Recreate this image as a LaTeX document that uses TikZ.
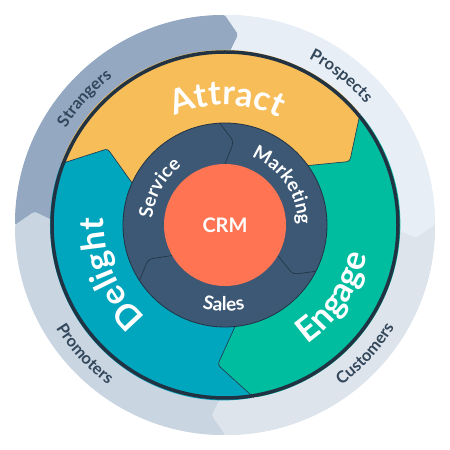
\documentclass[tikz,border=0pt]{standalone}
\usepackage{fontspec}
\setmainfont{Lato}
\usetikzlibrary{decorations.text}
\definecolor{strangers}{HTML}{94A9C1}
\definecolor{prospects}{HTML}{E8EEF5}
\definecolor{customers}{HTML}{DEE4EC}
\definecolor{promoters}{HTML}{CAD5E2}
\definecolor{attract}{HTML}{F7BD59}
\definecolor{engage}{HTML}{00BDA0}
\definecolor{delight}{HTML}{00A5BE}
\definecolor{hub}{HTML}{3D5874}
\definecolor{crmcol}{HTML}{FF7452}
\definecolor{rim}{HTML}{213343}
\definecolor{labelcol}{HTML}{33475B}
\newcommand{\segpath}[7]{(#1:#3) arc[start angle=#1, end angle=#2, radius=#3] -- ({#2-#6}:#5) -- ({#2-#7}:#4) arc[start angle={#2-#7}, end angle={#1-#7}, radius=#4] -- ({#1-#6}:#5) -- cycle}
\newcommand{\fbig}{\fontsize{34}{34}\selectfont\bfseries}
\newcommand{\fmid}{\fontsize{19}{19}\selectfont\bfseries}
\newcommand{\fout}{\fontsize{16.5}{16.5}\selectfont\bfseries}
\tikzset{
  curvetext/.style 2 args={decorate, decoration={text along path, text={#1}, text align=center, text color=#2}},
  segline/.style={draw=rim, line width=0.6, rounded corners=3},
}
\begin{document}
\begin{tikzpicture}[x=1pt,y=1pt]
\useasboundingbox (0,0) rectangle (450,450);
\begin{scope}[shift={(225,225)}]
% outer ring
\fill[customers] (0,0) circle[radius=210];
\fill[strangers, rounded corners=2] \segpath{180}{90}{210}{166}{191}{4}{0.5};
\fill[prospects, rounded corners=2] \segpath{90}{0}{210}{166}{191}{4}{0.5};
\fill[customers, rounded corners=2] \segpath{0}{-90}{210}{166}{191}{4}{0.5};
\fill[promoters, rounded corners=2] \segpath{-90}{-180}{210}{166}{191}{4}{0.5};
% middle ring
\fill[attract, rounded corners=3] \segpath{159.5}{39.5}{175}{98}{140}{12.5}{2.5};
\fill[engage, rounded corners=3] \segpath{39.5}{-80.5}{175}{98}{140}{12.5}{2.5};
\fill[delight, rounded corners=3] \segpath{-80.5}{-200.5}{175}{98}{140}{12.5}{2.5};
\foreach \b in {39.5,159.5,-80.5}
  \path[segline] (\b:175) -- ({\b-12.5}:140) -- ({\b-2.5}:98);
\draw[rim, line width=3.5] (0,0) circle[radius=173];
% hub ring
\filldraw[fill=hub, draw=rim, line width=0.8] (0,0) circle[radius=102];
\foreach \b in {93,-27,213}
  \path[segline, rounded corners=4] (\b:102) -- ({\b-9}:84) -- ({\b-3}:61);
\fill[crmcol] (0,0) circle[radius=61];
\node[text=white, font=\fontsize{20}{20}\selectfont\bfseries] (crm) at (0,0) {CRM};
% texts
\path[curvetext={|\fbig|Attract}{white}] (169:120) arc[start angle=169, end angle=9, radius=120];
\path[curvetext={|\fbig|Delight}{white}] (283:121) arc[start angle=283, end angle=123, radius=121];
\path[curvetext={|\fbig|Engage}{white}] (-113.7:145) arc[start angle=-113.7, end angle=46.3, radius=145];
\path[curvetext={|\fmid|Service}{white}] (230.7:73) arc[start angle=230.7, end angle=70.7, radius=73];
\path[curvetext={|\fmid|Marketing}{white}] (114.5:73) arc[start angle=114.5, end angle=-45.5, radius=73];
\path[curvetext={|\fmid|Sales}{white}] (-171:86) arc[start angle=-171, end angle=-11, radius=86];
\path[curvetext={|\fout|Strangers}{labelcol}] (178:186) arc[start angle=178, end angle=98, radius=186];
\path[curvetext={|\fout|Prospects}{labelcol}] (92:186) arc[start angle=92, end angle=12, radius=186];
\path[curvetext={|\fout|Customers}{labelcol}] (-82.6:198) arc[start angle=-82.6, end angle=-2.6, radius=198];
\path[curvetext={|\fout|Promoters}{labelcol}] (182.6:198) arc[start angle=182.6, end angle=262.6, radius=198];
\end{scope}
\end{tikzpicture}
\end{document}
